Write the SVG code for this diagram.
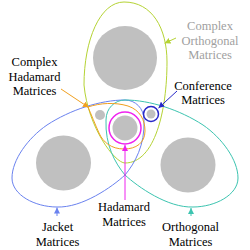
<svg xmlns="http://www.w3.org/2000/svg" width="250" height="250" viewBox="0 0 250 250">
<style>
.g{fill:#c0c0c0;stroke:none}
.sh{fill:none;stroke-width:1}
text{font-family:'Liberation Serif','Times New Roman','DejaVu Serif',serif;font-size:12.5px;text-anchor:middle;fill:#000}
.ln{fill:none;stroke-width:1}
</style>
<defs>
<marker id="aY" viewBox="0 0 6 6" refX="6" refY="3" markerWidth="6" markerHeight="6" markerUnits="userSpaceOnUse" orient="auto"><path d="M0,0L6,3L0,6Z" fill="#b5d334"/></marker>
<marker id="aC" viewBox="0 0 6 6" refX="6" refY="3" markerWidth="6" markerHeight="6" markerUnits="userSpaceOnUse" orient="auto"><path d="M0,0L6,3L0,6Z" fill="#2828c8"/></marker>
<marker id="aO" viewBox="0 0 6 6" refX="5" refY="3" markerWidth="6" markerHeight="6" markerUnits="userSpaceOnUse" orient="auto"><path d="M0,0L6,3L0,6Z" fill="#f0a020"/></marker>
<marker id="aB" viewBox="0 0 6 6" refX="6" refY="3" markerWidth="6" markerHeight="6" markerUnits="userSpaceOnUse" orient="auto"><path d="M0,0L6,3L0,6Z" fill="#6a82ef"/></marker>
<marker id="aT" viewBox="0 0 6 6" refX="6" refY="3" markerWidth="6" markerHeight="6" markerUnits="userSpaceOnUse" orient="auto"><path d="M0,0L6,3L0,6Z" fill="#3cc4b0"/></marker>
<marker id="aM" viewBox="0 0 6 6" refX="6" refY="3" markerWidth="6" markerHeight="6" markerUnits="userSpaceOnUse" orient="auto"><path d="M0,0L6,3L0,6Z" fill="#ee22ee"/></marker>
</defs>
<rect width="250" height="250" fill="#fff"/>

<g id="complex-orthogonal">
<circle class="g" cx="125" cy="58" r="32"/>
<path class="sh" stroke="#b5d334" d="M124,2 C152,2 167,28 167,62 C167,110 155,163 125,163 C115,163 88,128 84,85 C84,40 100,2 124,2 Z"/>
<text font-family="Liberation Serif, serif" style="fill:#a0a0a0"><tspan x="210" y="30">Complex</tspan><tspan x="210" y="45">Orthogonal</tspan><tspan x="210" y="59">Matrices</tspan></text>
</g>

<g id="jacket">
<circle class="g" cx="63.5" cy="163" r="27.5"/>
<path class="sh" stroke="#6a82ef" d="M125,175 C112,187 82,208 57,207 C35,207 12,195 12,178 C12,160 28,138 47,125 C70,110 100,100 125,100 C135,100 144,108 144,120 C145,145 135,163 125,175 Z"/>
<text font-family="Liberation Serif, serif"><tspan x="57.5" y="231">Jacket</tspan><tspan x="57.5" y="246">Matrices</tspan></text>
</g>

<g id="orthogonal">
<circle class="g" cx="188" cy="165" r="27.5"/>
<path class="sh" stroke="#3cc4b0" d="M125,175 C138,187 168,208 193,207 C215,207 238,195 238,178 C238,160 222,138 203,125 C180,110 150,100 125,100 C115,100 106,108 106,120 C105,145 115,163 125,175 Z"/>
<text font-family="Liberation Serif, serif"><tspan x="190.5" y="231">Orthogonal</tspan><tspan x="190.5" y="246">Matrices</tspan></text>
</g>

<g id="complex-hadamard">
<circle class="g" cx="100" cy="115" r="5"/>
<path class="sh" stroke="#f0a020" d="M88,107 C100,103 115,102 128,106 C140,110 145,120 145,131 C145,143 136,149 124,149 C111,149 103,142 99,133 C95,124 91,114 88,107 Z"/>
<text font-family="Liberation Serif, serif"><tspan x="34.5" y="66">Complex</tspan><tspan x="34.5" y="81">Hadamard</tspan><tspan x="34.5" y="95">Matrices</tspan></text>
</g>

<g id="hadamard">
<circle class="g" cx="125" cy="128" r="12.5"/>
<circle cx="125" cy="128" r="16" fill="none" stroke="#ee22ee" stroke-width="1.5"/>
<text font-family="Liberation Serif, serif"><tspan x="124" y="211">Hadamard</tspan><tspan x="124" y="226">Matrices</tspan></text>
</g>

<g id="conference">
<circle class="g" cx="151" cy="114" r="4.5"/>
<circle cx="151" cy="114" r="7.5" fill="none" stroke="#2828c8" stroke-width="1.5"/>
<text font-family="Liberation Serif, serif"><tspan x="203" y="90">Conference</tspan><tspan x="203" y="104">Matrices</tspan></text>
</g>

<g id="connectors">
<line class="ln" stroke="#b5d334" x1="176" y1="38" x2="164.5" y2="43.3" marker-end="url(#aY)"/>
<line class="ln" stroke="#2828c8" x1="177" y1="91" x2="158.5" y2="108" marker-end="url(#aC)"/>
<line class="ln" stroke="#f0a020" x1="61" y1="89" x2="88" y2="107" marker-end="url(#aO)"/>
<line class="ln" stroke="#6a82ef" x1="57" y1="216" x2="57" y2="207.5" marker-end="url(#aB)"/>
<line class="ln" stroke="#3cc4b0" x1="191" y1="216" x2="191" y2="208" marker-end="url(#aT)"/>
<line class="ln" stroke="#ee22ee" stroke-width="1.5" x1="125" y1="200" x2="125" y2="145" marker-end="url(#aM)"/>
</g>
</svg>
